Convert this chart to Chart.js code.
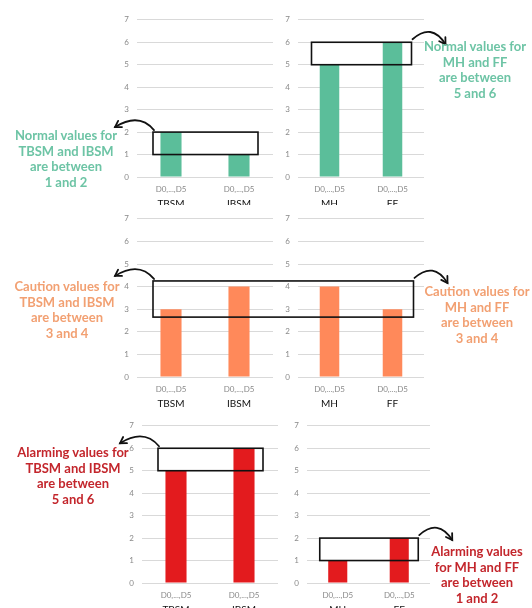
<!DOCTYPE html>
<html><head><meta charset="utf-8">
<script src="https://cdn.jsdelivr.net/npm/chart.js@4.4.1/dist/chart.umd.min.js"></script>
<style>
html,body{margin:0;padding:0;background:#fff;width:532px;height:608px;overflow:hidden;position:relative;font-family:Lato,"Open Sans",sans-serif;}
.wrap{position:absolute;overflow:hidden;}
.note{position:absolute;font-weight:bold;text-align:center;font-size:13px;line-height:15.7px;white-space:nowrap;transform:translateX(-50%);z-index:6;}
.teal{color:#6DC4A5;} .orange{color:#F2A072;} .red{color:#C3262C;}
#overlay{position:absolute;left:0;top:0;z-index:5;pointer-events:none;}
</style></head><body>
<div class="note teal" style="left:66px;top:128px">Normal values for<br>TBSM and IBSM<br>are between<br>1 and 2</div>
<div class="note teal" style="left:475px;top:39px">Normal values for<br>MH and FF<br>are between<br>5 and 6</div>
<div class="note orange" style="left:67px;top:279px">Caution values for<br>TBSM and IBSM<br>are between<br>3 and 4</div>
<div class="note orange" style="left:477px;top:284px">Caution values for<br>MH and FF<br>are between<br>3 and 4</div>
<div class="note red" style="left:73px;top:445px">Alarming values for<br>TBSM and IBSM<br>are between<br>5 and 6</div>
<div class="note red" style="left:477px;top:544px">Alarming values<br>for MH and FF<br>are between<br>1 and 2</div>
<canvas id="overlay" width="532" height="608"></canvas>
<script>
// ---- data ----
const tickLabels = ['D0,...,D5', 'D0,...,D5'];
const leftCategories = ['TBSM', 'IBSM'];
const rightCategories = ['MH', 'FF'];
const yMin = 0;
const yMax = 7;
const normalLeft = [2, 1];
const normalRight = [5, 6];
const cautionLeft = [3, 4];
const cautionRight = [4, 3];
const alarmingLeft = [5, 6];
const alarmingRight = [1, 2];
const normalLeftRange = [1, 2];
const normalRightRange = [5, 6];
const cautionRange = [2.65, 4.25];
const alarmingLeftRange = [5, 6];
const alarmingRightRange = [1, 2];

// ---- styles ----
const TEAL = '#5BBE9A', ORANGE = '#FF895A', RED = '#E31B1E';
const FONT = 'Lato, "Open Sans", sans-serif';

// layout: plot area rectangle in page px and clip bottom
const panels = [
  {cats: leftCategories,  vals: normalLeft,    color: TEAL,   pl:137, pr:273, pt:15,  pb:177, clip:205},
  {cats: rightCategories, vals: normalRight,   color: TEAL,   pl:298, pr:424, pt:15,  pb:177, clip:205},
  {cats: leftCategories,  vals: cautionLeft,   color: ORANGE, pl:137, pr:273, pt:214, pb:377, clip:412},
  {cats: rightCategories, vals: cautionRight,  color: ORANGE, pl:298, pr:424, pt:214, pb:377, clip:412},
  {cats: leftCategories,  vals: alarmingLeft,  color: RED,    pl:142, pr:278, pt:421, pb:583, clip:608},
  {cats: rightCategories, vals: alarmingRight, color: RED,    pl:307, pr:430, pt:421, pb:583, clip:608},
];

const YW = 30, TOPPAD = 8, XH = 18, X2H = 16;
const charts = [];
panels.forEach(p => {
  const left = p.pl - YW, top = p.pt - TOPPAD;
  const w = p.pr - left + 2, h = (p.pb - p.pt) + TOPPAD + XH + X2H;
  const wrap = document.createElement('div');
  wrap.className = 'wrap';
  wrap.style.left = left + 'px'; wrap.style.top = top + 'px';
  wrap.style.width = w + 'px'; wrap.style.height = Math.min(h, p.clip - top) + 'px';
  const cv = document.createElement('canvas');
  cv.width = w; cv.height = h;
  wrap.appendChild(cv);
  document.body.appendChild(wrap);
  const ch = new Chart(cv, {
    type: 'bar',
    data: {
      labels: p.cats,
      datasets: [{data: p.vals, backgroundColor: p.color, borderWidth: 0,
                  barPercentage: 0.31, categoryPercentage: 1, xAxisID: 'x', yAxisID: 'y'}]
    },
    options: {
      responsive: false, animation: false, devicePixelRatio: 1,
      layout: {padding: {top: TOPPAD, left: 0, right: 2, bottom: 0}},
      plugins: {legend: {display: false}, tooltip: {enabled: false}},
      scales: {
        y: {
          min: yMin, max: yMax,
          ticks: {stepSize: 1, color: '#8a8a8a', font: {family: FONT, size: 8}, padding: 8},
          grid: {color: '#d9d9d9', lineWidth: 1, drawTicks: false},
          border: {display: false},
          afterFit: s => { s.width = YW; }
        },
        x: {
          type: 'category', labels: tickLabels, position: 'bottom',
          ticks: {color: '#8a8a8a', font: {family: FONT, size: 8}, padding: 8, maxRotation: 0, autoSkip: false},
          grid: {display: false, drawTicks: false}, border: {display: false},
          afterFit: s => { s.height = XH; }
        },
        x2: {
          type: 'category', labels: p.cats, position: 'bottom',
          ticks: {color: '#111', font: {family: FONT, size: 10}, padding: 3, maxRotation: 0, autoSkip: false},
          grid: {display: false, drawTicks: false}, border: {display: false},
          afterFit: s => { s.height = X2H; }
        }
      }
    }
  });
  charts.push({chart: ch, left, top});
});

// ---- overlay: boxes and arrows ----
const ctx = document.getElementById('overlay').getContext('2d');
function px(i, idx) { const c = charts[i]; return c.left + c.chart.scales.x.getPixelForValue(idx); }
function py(i, v) { const c = charts[i]; return c.top + c.chart.scales.y.getPixelForValue(v); }

function box(x0, x1, y0, y1) {
  ctx.strokeStyle = '#111'; ctx.lineWidth = 1.6;
  ctx.strokeRect(x0, y0, x1 - x0, y1 - y0);
}
function arrow(sx, sy, cx, cy, ex, ey) {
  ctx.strokeStyle = '#111'; ctx.lineWidth = 1.8; ctx.lineCap = 'round';
  ctx.beginPath(); ctx.moveTo(sx, sy); ctx.quadraticCurveTo(cx, cy, ex, ey); ctx.stroke();
  const a = Math.atan2(ey - cy, ex - cx), L = 7;
  ctx.beginPath();
  ctx.moveTo(ex - L * Math.cos(a - 0.55), ey - L * Math.sin(a - 0.55));
  ctx.lineTo(ex, ey);
  ctx.lineTo(ex - L * Math.cos(a + 0.55), ey - L * Math.sin(a + 0.55));
  ctx.stroke();
}
function leftArrow(bx, by) { arrow(bx + 1, by - 2, bx - 14, by - 20, bx - 38, by - 5); }
function rightArrow(bx, by) { arrow(bx + 1, by - 3, bx + 20, by - 20, bx + 34, by + 2); }

function panelBox(i, range, side) {
  const x0 = px(i, 0) - 18, x1 = px(i, 1) + 19;
  const yTop = py(i, range[1]), yBot = py(i, range[0]);
  box(x0, x1, yTop, yBot);
  if (side === 'left') leftArrow(x0, yTop); else rightArrow(x1, yTop);
}
panelBox(0, normalLeftRange, 'left');
panelBox(1, normalRightRange, 'right');
panelBox(4, alarmingLeftRange, 'left');
panelBox(5, alarmingRightRange, 'right');
// spanning caution box across middle panels
{
  const x0 = px(2, 0) - 18, x1 = px(3, 1) + 21;
  const yTop = py(2, cautionRange[1]), yBot = py(2, cautionRange[0]);
  box(x0, x1, yTop, yBot);
  leftArrow(x0, yTop);
  rightArrow(x1, yTop);
}
</script>
</body></html>
